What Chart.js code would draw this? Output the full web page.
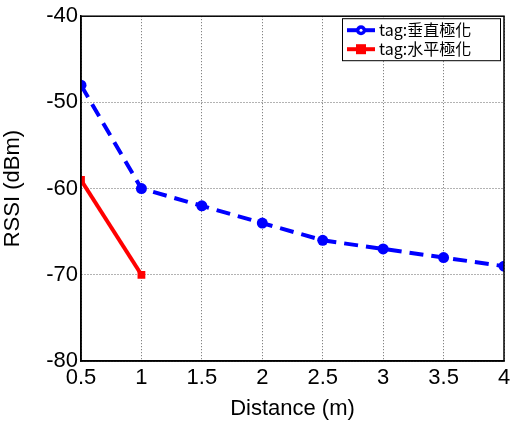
<!DOCTYPE html>
<html>
<head>
<meta charset="utf-8">
<script src="https://cdn.jsdelivr.net/npm/chart.js@4"></script>
<style>
  html, body { margin: 0; padding: 0; background: #fff; }
  #wrap { width: 513px; height: 432px; }
</style>
</head>
<body>
<div id="wrap"><canvas id="rssiChart" width="513" height="432"></canvas></div>
<script>
const distVertical = [0.5, 1, 1.5, 2, 2.5, 3, 3.5, 4];
const rssiVertical = [-48, -60, -62, -64, -66, -67, -68, -69];
const distHorizontal = [0.5, 1];
const rssiHorizontal = [-59, -70];
const xTicks = [0.5, 1, 1.5, 2, 2.5, 3, 3.5, 4];
const yTicks = [-80, -70, -60, -50, -40];

const toPoints = (xs, ys) => xs.map((x, i) => ({ x: x, y: ys[i] }));
const fontFamily = "'Liberation Sans', Arial, sans-serif";

// legend box drawn inside the plot, top right
const boxLegend = {
  id: 'boxLegend',
  afterDraw(chart) {
    const ctx = chart.ctx;
    const area = chart.chartArea;
    const w = 158, h = 42;
    const x0 = area.right - w - 4, y0 = area.top + 2;
    ctx.save();
    ctx.fillStyle = '#fff';
    ctx.fillRect(x0, y0, w, h);
    ctx.strokeStyle = '#000';
    ctx.lineWidth = 1;
    ctx.strokeRect(x0 + 0.5, y0 + 0.5, w, h);
    chart.data.datasets.forEach((ds, i) => {
      const cy = y0 + 12 + i * 19;
      ctx.strokeStyle = ds.borderColor;
      ctx.lineWidth = 4;
      ctx.setLineDash([]);
      ctx.beginPath();
      ctx.moveTo(x0 + 5, cy);
      ctx.lineTo(x0 + 33, cy);
      ctx.stroke();
      ctx.fillStyle = ds.borderColor;
      if (ds.pointStyle === 'rect') {
        ctx.fillRect(x0 + 14, cy - 5, 10, 10);
      } else {
        ctx.beginPath();
        ctx.arc(x0 + 19, cy, 5, 0, Math.PI * 2);
        ctx.fill();
        ctx.fillStyle = '#fff';
        ctx.beginPath();
        ctx.arc(x0 + 19, cy, 1.5, 0, Math.PI * 2);
        ctx.fill();
      }
      ctx.fillStyle = '#000';
      ctx.font = "16px 'Noto Sans CJK TC', sans-serif";
      ctx.textBaseline = 'middle';
      ctx.fillText(ds.label, x0 + 37, cy);
    });
    ctx.restore();
  }
};

new Chart(document.getElementById('rssiChart'), {
  type: 'scatter',
  data: {
    datasets: [
      {
        label: 'tag:垂直極化',
        data: toPoints(distVertical, rssiVertical),
        showLine: true,
        borderColor: '#0000ff',
        backgroundColor: '#0000ff',
        borderWidth: 4,
        borderDash: [14, 8],
        pointStyle: 'circle',
        pointRadius: 5.5,
        pointBorderWidth: 0
      },
      {
        label: 'tag:水平極化',
        data: toPoints(distHorizontal, rssiHorizontal),
        showLine: true,
        borderColor: '#ff0000',
        backgroundColor: '#ff0000',
        borderWidth: 4,
        pointStyle: 'rect',
        pointRadius: 5.5,
        pointBorderWidth: 0
      }
    ]
  },
  options: {
    responsive: false,
    animation: false,
    layout: { padding: { top: 13, right: 9, left: 0, bottom: 0 } },
    plugins: {
      legend: { display: false },
      tooltip: { enabled: false }
    },
    scales: {
      x: {
        type: 'linear',
        min: 0.5,
        max: 4,
        afterBuildTicks: (s) => { s.ticks = xTicks.map(v => ({ value: v })); },
        afterFit: (s) => { s.height = 71; s.paddingRight = 0; s.paddingLeft = 0; },
        ticks: {
          color: '#000',
          font: { family: fontFamily, size: 22 },
          padding: 4,
          maxRotation: 0,
          autoSkip: false,
          callback: (v) => String(v)
        },
        grid: {
          color: '#000',
          lineWidth: 0.6,
          tickLength: 0,
          drawTicks: false
        },
        border: { display: true, color: '#000', width: 1.5, dash: [1, 2] },
        title: {
          display: true,
          text: 'Distance (m)',
          color: '#000',
          font: { family: fontFamily, size: 22 },
          padding: { top: 0, bottom: 10 }
        }
      },
      y: {
        type: 'linear',
        min: -80,
        max: -40,
        afterBuildTicks: (s) => { s.ticks = yTicks.map(v => ({ value: v })); },
        afterFit: (s) => { s.width = 81; },
        ticks: {
          color: '#000',
          font: { family: fontFamily, size: 22 },
          padding: 3,
          autoSkip: false
        },
        grid: {
          color: '#000',
          lineWidth: 0.6,
          drawTicks: false
        },
        border: { display: true, color: '#000', width: 1.5, dash: [1, 2] },
        title: {
          display: true,
          text: 'RSSI (dBm)',
          color: '#000',
          font: { family: fontFamily, size: 22 },
          padding: { top: 0, bottom: 2 }
        }
      }
    }
  },
  plugins: [boxLegend, {
    id: 'frame',
    afterDatasetsDraw(chart) {
      // solid box around the plot, like the original axes
      const a = chart.chartArea, ctx = chart.ctx;
      ctx.save();
      ctx.strokeStyle = '#000';
      ctx.lineWidth = 1.5;
      ctx.setLineDash([]);
      ctx.strokeRect(a.left, a.top, a.right - a.left, a.bottom - a.top);
      ctx.restore();
    }
  }]
});
</script>
</body>
</html>
